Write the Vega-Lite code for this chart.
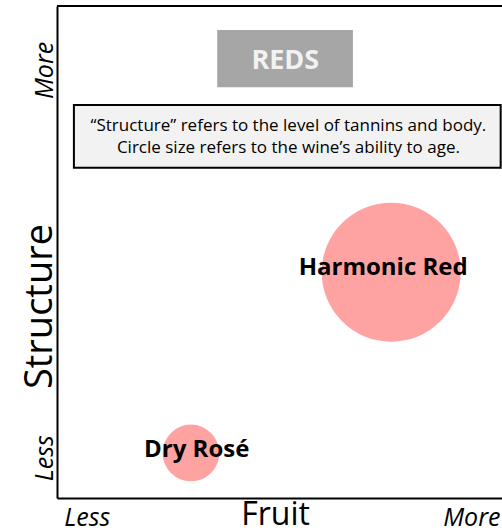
{
  "$schema": "https://vega.github.io/schema/vega-lite/v6.json",
  "width": 445,
  "height": 492,
  "autosize": "none",
  "padding": {"left": 57, "top": 6, "right": 0, "bottom": 34},
  "background": "white",
  "config": {"view": {"stroke": null}, "font": "Open Sans"},
  "layer": [
    {
      "data": {"name": "wines", "values": [
        {"name": "Harmonic Red", "fruit": 7.51, "structure": 4.59, "ageability": 6, "label_fruit": 7.33, "label_structure": 4.53},
        {"name": "Dry Rosé", "fruit": 3.01, "structure": 0.915, "ageability": 1, "label_fruit": 3.14, "label_structure": 0.84}
      ]},
      "mark": {"type": "point", "filled": true, "opacity": 1, "shape": "circle", "color": "#ffa2a2"},
      "encoding": {
        "x": {"field": "fruit", "type": "quantitative", "scale": {"domain": [0, 10], "nice": false, "zero": false},
          "axis": {"values": [0.67, 9.31], "labelExpr": "datum.value < 5 ? 'Less' : 'More'", "grid": false, "ticks": false, "tickSize": 0,
            "domainColor": "#000000", "domainWidth": 2, "labelFontStyle": "italic", "labelFontSize": 25, "labelColor": "#000000",
            "labelBaseline": "alphabetic", "labelPadding": 27, "labelFlush": false, "labelOverlap": false, "labelBound": false,
            "title": "Fruit", "titleFontSize": 32, "titleFontWeight": "normal", "titleColor": "#000000", "titleX": 218, "titleY": 26, "titleBaseline": "alphabetic", "titleAlign": "center"}},
        "y": {"field": "structure", "type": "quantitative", "scale": {"domain": [0, 10], "nice": false, "zero": false},
          "axis": {"values": [0.82, 8.7], "labelExpr": "datum.value < 5 ? 'Less' : 'More'", "grid": false, "ticks": false, "tickSize": 0,
            "domainColor": "#000000", "domainWidth": 2, "labelFontStyle": "italic", "labelFontSize": 25, "labelColor": "#000000",
            "labelAngle": 270, "labelAlign": "center", "labelBaseline": "alphabetic", "labelPadding": 5, "labelFlush": false, "labelOverlap": false, "labelBound": false,
            "title": "Structure", "titleFontSize": 38, "titleFontWeight": "normal", "titleColor": "#000000", "titleAngle": 270, "titleX": -6, "titleY": 300, "titleBaseline": "alphabetic", "titleAlign": "center"}},
        "size": {"field": "ageability", "type": "quantitative", "scale": {"domain": [0, 6], "range": [0, 19321], "type": "linear", "zero": true}, "legend": null}
      }
    },
    {
      "data": {"name": "wines"},
      "mark": {"type": "text", "fontWeight": "bold", "fontSize": 24, "color": "#000000", "align": "center", "baseline": "alphabetic"},
      "encoding": {
        "x": {"field": "label_fruit", "type": "quantitative"},
        "y": {"field": "label_structure", "type": "quantitative"},
        "text": {"field": "name"}
      }
    },
    {
      "data": {"values": [{"x": 0, "x2": 10, "y": 10}]},
      "mark": {"type": "rule", "color": "#000000", "strokeWidth": 2},
      "encoding": {
        "x": {"field": "x", "type": "quantitative"},
        "x2": {"field": "x2"},
        "y": {"field": "y", "type": "quantitative"}
      }
    },
    {
      "data": {"values": [{"x1": 3.6, "x2": 6.65, "y1": 8.35, "y2": 9.51, "text": "REDS", "tx": 5.13, "ty": 8.72}]},
      "layer": [
        {
          "mark": {"type": "rect", "color": "#a6a6a6"},
          "encoding": {
            "x": {"field": "x1", "type": "quantitative"},
            "x2": {"field": "x2"},
            "y": {"field": "y1", "type": "quantitative"},
            "y2": {"field": "y2"}
          }
        },
        {
          "mark": {"type": "text", "fontWeight": "bold", "fontSize": 27, "color": "#f2f2f2", "align": "center", "baseline": "alphabetic"},
          "encoding": {
            "x": {"field": "tx", "type": "quantitative"},
            "y": {"field": "ty", "type": "quantitative"},
            "text": {"field": "text"}
          }
        }
      ]
    },
    {
      "data": {"values": [{"x1": 0.38, "x2": 9.97, "y1": 6.71, "y2": 7.99}]},
      "mark": {"type": "rect", "fill": "#f2f2f2", "stroke": "#000000", "strokeWidth": 2},
      "encoding": {
        "x": {"field": "x1", "type": "quantitative"},
        "x2": {"field": "x2"},
        "y": {"field": "y1", "type": "quantitative"},
        "y2": {"field": "y2"}
      }
    },
    {
      "data": {"values": [
        {"line": "“Structure” refers to the level of tannins and body.", "tx": 5.2, "ty": 7.46},
        {"line": "Circle size refers to the wine’s ability to age.", "tx": 5.2, "ty": 7.01}
      ]},
      "mark": {"type": "text", "fontSize": 17, "color": "#000000", "align": "center", "baseline": "alphabetic"},
      "encoding": {
        "x": {"field": "tx", "type": "quantitative"},
        "y": {"field": "ty", "type": "quantitative"},
        "text": {"field": "line"}
      }
    }
  ]
}
